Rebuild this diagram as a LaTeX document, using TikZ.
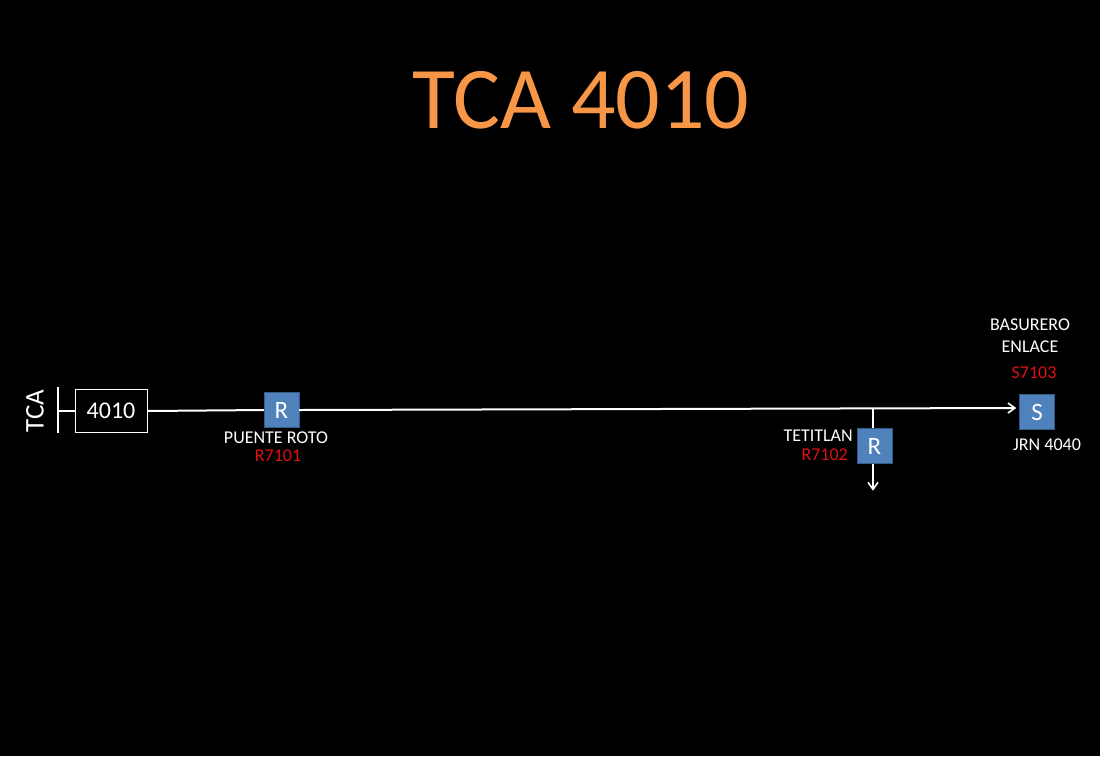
\documentclass[tikz,border=0pt]{standalone}
\usepackage{fontspec}
\setmainfont{Carlito}
\usetikzlibrary{arrows.meta,positioning}
\definecolor{tcaorange}{HTML}{F79646}
\definecolor{tcablue}{HTML}{4F81BD}
\definecolor{tcared}{HTML}{E01010}

\begin{document}
\begin{tikzpicture}[x=1pt,y=1pt,
  station/.style={rectangle,fill=tcablue,draw=tcablue!70!black,minimum size=35pt,inner sep=0pt,text=white,font=\fontsize{25}{27}\selectfont},
  tag/.style={text=white,font=\fontsize{18}{20}\selectfont,inner sep=1pt},
  code/.style={text=tcared,font=\fontsize{18}{20}\selectfont,inner sep=1pt},
  feed/.style={white,line width=2pt},
  flow/.style={white,line width=2pt,-{Straight Barb[length=7pt,width=10pt,line width=1.6pt]}}]
  \fill[black] (0,0) rectangle (1100,-756);
  \useasboundingbox (0,0) rectangle (1100,-756);

  \node[text=tcaorange,font=\fontsize{88}{92}\selectfont] (title) at (581,-100) {TCA 4010};

  % source bus
  \node[text=white,rotate=90,font=\fontsize{27}{29}\selectfont] (tca) at (35,-411) {TCA};
  \coordinate (bustop) at (58,-387);
  \coordinate (busbot) at (58,-433);
  \coordinate (bus) at (58,-411);
  \draw[feed] (bustop) -- (busbot);
  \node[draw=white,line width=1pt,minimum width=72pt,minimum height=43pt,inner sep=0pt,text=white,font=\fontsize{24}{26}\selectfont] (feeder) at (111,-411) {4010};
  \draw[feed] (bus) -- (feeder.west);

  % stations along the line
  \node[station] (r1) at (281.5,-410) {R};
  \node[tag] (r1name) at (276,-438) {PUENTE ROTO};
  \node[code] (r1code) at (278,-456) {R7101};

  \node[station] (s1) at (1037,-412) {S};
  \node[tag] (s1name) at (1047,-445) {JRN 4040};
  \node[code] (s1code) at (1034,-373) {S7103};
  \node[tag] (s1name2) at (1030,-347) {ENLACE};
  \node[tag] (s1name1) at (1030,-325) {BASURERO};

  \node[station] (r2) at (874.5,-446) {R};
  \node[tag,anchor=east] (r2name) at (854,-436) {TETITLAN};
  \node[code,anchor=east] (r2code) at (849,-455) {R7102};

  \coordinate (tap) at ([xshift=-1.5pt]r2.north |- 0,-408);
  \coordinate (tapend) at ([xshift=-1.5pt]r2.north);
  \coordinate (tapout) at ([xshift=-1.5pt]r2.south);
  \coordinate (r2out) at ([yshift=-27pt]tapout);
  \coordinate (lineend) at ([xshift=-3pt,yshift=4pt]s1.west);

  \draw[feed] (feeder.east) -- (r1.west);
  \draw[flow] (r1.east) -- (lineend);
  \draw[feed] (tap) -- (tapend);
  \draw[flow] (tapout) -- (r2out);
\end{tikzpicture}
\end{document}
